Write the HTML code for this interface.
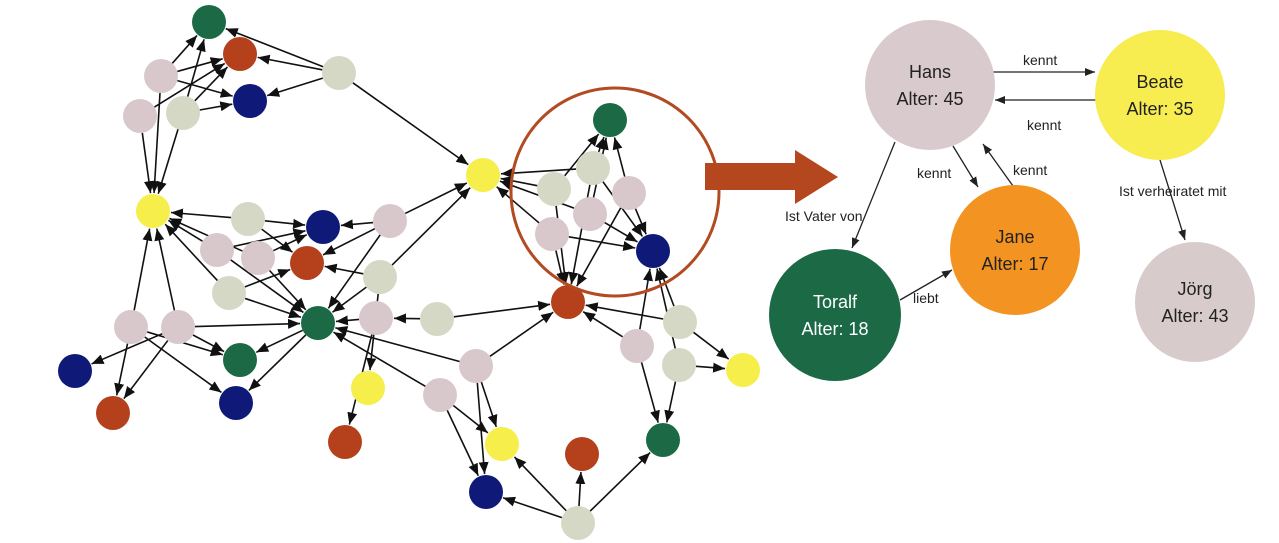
<!DOCTYPE html>
<html><head><meta charset="utf-8">
<style>
html,body{margin:0;padding:0;background:#fff;}
svg{display:block;}
text{font-family:"Liberation Sans",sans-serif;}
</style></head>
<body>
<svg id="s" width="1279" height="543" viewBox="0 0 1279 543" xmlns="http://www.w3.org/2000/svg">
<defs>
<marker id="a" viewBox="0 0 12 10" refX="12" refY="5" markerWidth="12" markerHeight="10" markerUnits="userSpaceOnUse" orient="auto"><path d="M0,0 L12,5 L0,10 z" fill="#111"/></marker>
<marker id="b" viewBox="0 0 10 8" refX="10" refY="4" markerWidth="10" markerHeight="8" markerUnits="userSpaceOnUse" orient="auto"><path d="M0,0 L10,4 L0,8 z" fill="#222"/></marker>
</defs>
<g id="edges" stroke="#111" stroke-width="1.6" fill="none"></g>
<g id="nodes"></g>
<circle cx="615" cy="192" r="104" fill="none" stroke="#b24a22" stroke-width="3"/>
<path d="M705,163 L795,163 L795,150 L838,177 L795,204 L795,190 L705,190 z" fill="#b5471e"/>

<!-- right diagram edges -->
<g stroke="#222" stroke-width="1.3" fill="none" marker-end="url(#b)">
<line x1="993" y1="72" x2="1095" y2="72"/>
<line x1="1097" y1="100" x2="995" y2="100"/>
<line x1="953" y1="146" x2="978" y2="187"/>
<line x1="1013" y1="186" x2="983" y2="144"/>
<line x1="895" y1="142" x2="852" y2="248"/>
<line x1="900" y1="300" x2="952" y2="270"/>
<line x1="1160" y1="160" x2="1185" y2="240"/>
</g>
<circle cx="930" cy="85" r="65" fill="#d9cacd"/>
<circle cx="1160" cy="95" r="65" fill="#f7ec50"/>
<circle cx="1015" cy="250" r="65" fill="#f39322"/>
<circle cx="835" cy="315" r="66" fill="#1b6a45"/>
<circle cx="1195" cy="302" r="60" fill="#d8cbcc"/>
<g font-size="18" text-anchor="middle">
<text x="930" y="78" fill="#222">Hans</text><text x="930" y="105" fill="#222">Alter: 45</text>
<text x="1160" y="88" fill="#222">Beate</text><text x="1160" y="115" fill="#222">Alter: 35</text>
<text x="1015" y="243" fill="#222">Jane</text><text x="1015" y="270" fill="#222">Alter: 17</text>
<text x="835" y="308" fill="#fff">Toralf</text><text x="835" y="335" fill="#fff">Alter: 18</text>
<text x="1195" y="295" fill="#222">Jörg</text><text x="1195" y="322" fill="#222">Alter: 43</text>
</g>
<g font-size="14" fill="#222">
<text x="1023" y="65">kennt</text>
<text x="1027" y="130">kennt</text>
<text x="917" y="178">kennt</text>
<text x="1013" y="175">kennt</text>
<text x="785" y="221">Ist Vater von</text>
<text x="913" y="303">liebt</text>
<text x="1119" y="196">Ist verheiratet mit</text>
</g>
</svg>
<script>
var P="#d8c8cc",L="#d5d8c4",G="#1b6a45",R="#b5401c",N="#0f1a78",Y="#f6ee4a";
var n={
gr:[209,22,G],rd:[240,54,R],pA:[161,76,P],lR:[339,73,L],nv:[250,101,N],pB:[140,116,P],lC:[183,113,L],
y1:[153,211,Y],lD:[248,219,L],nv2:[323,227,N],pE:[390,221,P],pF:[217,250,P],pG:[258,258,P],rd2:[307,263,R],
lH:[229,293,L],pI:[380,277,L],gc:[318,323,G],pJ:[131,327,P],pK:[178,327,P],pL:[376,318,P],lM:[437,319,L],
gr2:[240,360,G],nv3:[75,371,N],y2:[368,388,Y],pN:[440,395,P],rd3:[113,413,R],nv4:[236,403,N],rd4:[345,442,R],
y3:[483,175,Y],gt:[610,120,G],lO:[593,168,L],lP:[554,189,L],pQ:[629,193,P],pR:[590,214,P],pS:[552,234,P],
nv5:[653,251,N],rd5:[568,302,R],pT:[476,366,P],lU:[680,322,L],pV:[637,346,P],lW:[679,365,L],y4:[743,370,Y],
y5:[502,444,Y],rd6:[582,454,R],g3:[663,440,G],nv6:[486,492,N],lX:[578,523,L]};
var e="lR>gr lR>rd lR>nv lR>y3 pA>gr pA>rd pA>nv pA>y1 pB>rd pB>y1 lC>gr lC>rd lC>nv lC>y1 lD>y1 lD>nv2 lD>rd2 pF>y1 pF>nv2 pF>gc pG>y1 pG>gc pG>nv2 pE>nv2 pE>y3 pE>rd2 pE>gc pI>rd2 pI>gc pI>y2 pI>y3 lH>y1 lH>rd2 lH>gc pJ>y1 pJ>rd3 pJ>nv4 pJ>gr2 pK>y1 pK>gc pK>gr2 pK>nv3 pK>rd3 gc>gr2 gc>nv4 pL>gc pL>rd4 lM>pL lM>rd5 pT>gc pT>rd5 pT>y5 pT>nv6 pN>gc pN>y5 pN>nv6 lO>y3 lP>y3 pR>y3 pS>y3 lO>gt lP>gt pQ>gt pR>gt lO>rd5 lO>nv5 pR>nv5 pS>nv5 pS>rd5 pQ>rd5 pQ>nv5 lP>rd5 lU>rd5 lU>nv5 lU>y4 pV>rd5 pV>nv5 pV>g3 lW>y4 lW>g3 lW>nv5 lX>nv6 lX>y5 lX>rd6 lX>g3".split(" ");
var NS="http://www.w3.org/2000/svg",eg=document.getElementById("edges"),ng=document.getElementById("nodes"),r=17;
e.forEach(function(s){var p=s.split(">"),a=n[p[0]],b=n[p[1]];var dx=b[0]-a[0],dy=b[1]-a[1],d=Math.sqrt(dx*dx+dy*dy);
var l=document.createElementNS(NS,"line");l.setAttribute("x1",a[0]+dx/d*r);l.setAttribute("y1",a[1]+dy/d*r);
l.setAttribute("x2",b[0]-dx/d*(r+1));l.setAttribute("y2",b[1]-dy/d*(r+1));l.setAttribute("marker-end","url(#a)");eg.appendChild(l);});
for(var k in n){var c=document.createElementNS(NS,"circle");c.setAttribute("cx",n[k][0]);c.setAttribute("cy",n[k][1]);c.setAttribute("r",r);c.setAttribute("fill",n[k][2]);ng.appendChild(c);}
</script>
</body></html>
